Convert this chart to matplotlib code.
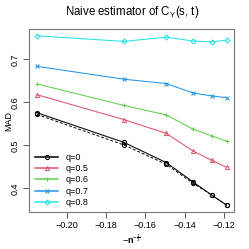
import numpy as np
import matplotlib
matplotlib.use("Agg")
import matplotlib.pyplot as plt

plt.rcParams['font.family'] = ['Liberation Sans', 'DejaVu Sans']
plt.rcParams['mathtext.fontset'] = 'custom'
plt.rcParams['mathtext.rm'] = 'Liberation Sans'
plt.rcParams['mathtext.it'] = 'Liberation Sans'
plt.rcParams['mathtext.bf'] = 'Liberation Sans:bold'

n = np.array([100, 200, 300, 400, 500, 600])
x = -n ** (-1.0 / 3)

q0 = [0.576, 0.507, 0.460, 0.415, 0.384, 0.361]
q0_ref = [0.572, 0.501, 0.456, 0.412, 0.384, 0.361]
q05 = [0.618, 0.560, 0.528, 0.487, 0.465, 0.449]
q06 = [0.643, 0.593, 0.571, 0.538, 0.522, 0.510]
q07 = [0.684, 0.654, 0.644, 0.622, 0.615, 0.611]
q08 = [0.755, 0.742, 0.752, 0.743, 0.741, 0.745]

labels = ['q=0', 'q=0.5', 'q=0.6', 'q=0.7', 'q=0.8']
series = [q0, q05, q06, q07, q08]
colors = ['black', '#DF536B', '#61D04F', '#2297E6', '#28E2E5']
markers = ['o', '^', '+', 'x', 'D']

fig = plt.figure(figsize=(2.49, 2.49), dpi=100)
ax = fig.add_axes([0.118, 0.147, 0.822, 0.735])

ax.plot(x, q0_ref, color='black', ls=(0, (3, 2)), lw=0.7,
        marker='o', ms=3, mfc='none', mew=0.7)
for y, c, m, lab in zip(series, colors, markers, labels):
    ax.plot(x, y, color=c, lw=0.75, marker=m, ms=3 if m != 'D' else 2.6,
            mfc='none', mew=0.75, label=lab)

ax.set_xlim(-0.2193, -0.1147)
ax.set_ylim(0.344, 0.770)
ax.set_xticks([-0.20, -0.18, -0.16, -0.14, -0.12])
ax.set_xticklabels(['\u22120.20', '\u22120.18', '\u22120.16', '\u22120.14', '\u22120.12'])
ax.set_yticks([0.4, 0.5, 0.6, 0.7])
ax.set_yticklabels(['0.4', '0.5', '0.6', '0.7'], rotation=90, va='center')
ax.tick_params(labelsize=6.5, length=4, width=0.7, color='#555555')
ax.tick_params(axis='x', pad=2)
ax.tick_params(axis='y', pad=3)
for s in ax.spines.values():
    s.set_color('#777777')
    s.set_linewidth(0.8)

ax.set_title(r'Naive estimator of C$_\mathregular{Y}$(s, t)', fontsize=8.3, pad=10)
ax.set_ylabel('MAD', fontsize=6.5, va='center')
ax.yaxis.set_label_coords(-0.1, 0.5)
ax.set_xlabel(r'$-\mathbf{n}^{-\frac{1}{3}}$', fontsize=6.5, labelpad=2)

leg = ax.legend(loc='lower left', frameon=False, fontsize=6.5, handlelength=2.6,
                handletextpad=0.8, labelspacing=0.25, borderaxespad=0.2)
for h in leg.get_lines():
    h.set_linewidth(1.1)

fig.savefig('out.png', dpi=100)
